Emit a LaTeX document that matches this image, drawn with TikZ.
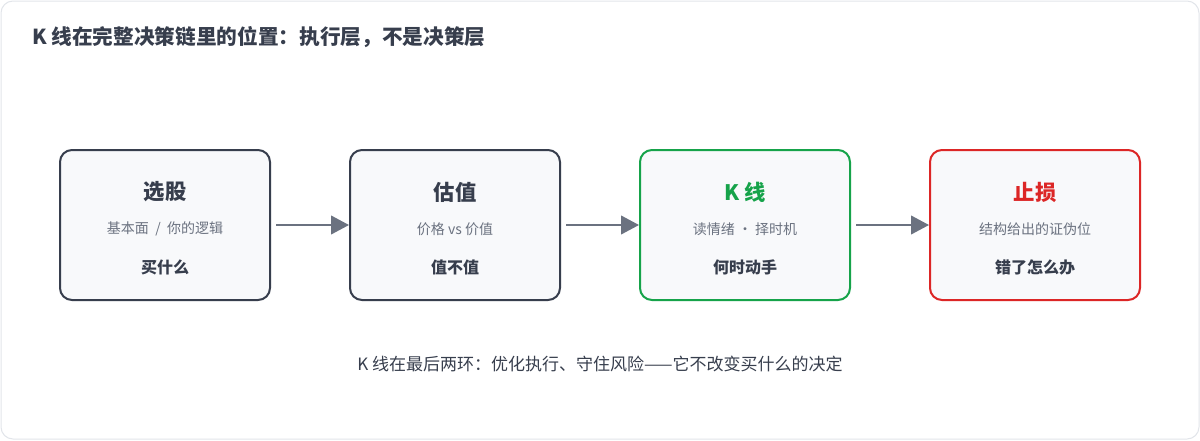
\documentclass[tikz,border=0pt]{standalone}
\usepackage{fontspec}
\setmainfont{Noto Sans CJK SC}
\usepackage{tikz}
\usetikzlibrary{positioning, arrows.meta, calc}
\usepackage{xcolor}
\definecolor{framegray}{RGB}{226, 229, 234}
\definecolor{boxfill}{RGB}{248, 249, 251}
\definecolor{inkdark}{RGB}{55, 62, 77}
\definecolor{inkgray}{RGB}{107, 114, 128}
\definecolor{arrowgray}{RGB}{107, 114, 128}
\definecolor{klinegreen}{RGB}{22, 163, 74}
\definecolor{stopred}{RGB}{220, 38, 38}

\tikzset{
    stagebox/.style={rectangle, rounded corners=9pt, draw=inkdark, line width=1.5pt,
        fill=boxfill, minimum width=157.5pt, minimum height=112.5pt, inner sep=0pt},
    stagetitle/.style={font=\fontsize{16}{19}\selectfont\bfseries, text=inkdark},
    stagesub/.style={font=\fontsize{10.5}{13}\selectfont, text=inkgray},
    stagekey/.style={font=\fontsize{12}{14}\selectfont\bfseries, text=inkdark},
    flowarrow/.style={-{Triangle[length=13.5pt, width=14pt]}, line width=1.5pt,
        draw=arrowgray, shorten <=3.75pt}
}

\begin{document}
\begin{tikzpicture}[x=0.75pt, y=-0.75pt]
    % Frame
    \useasboundingbox (0,0) rectangle (1200,440);
    \draw[framegray, line width=0.75pt, fill=white, rounded corners=9pt] (1,1) rectangle (1199,439);

    % Heading
    \node[anchor=west, inner sep=0pt, font=\fontsize{15.5}{18}\selectfont\bfseries, text=inkdark] (heading) at (32,37)
        {K 线在完整决策链里的位置：执行层，不是决策层};

    % Stages
    \node[stagebox] (pick) at (165,225) {};
    \node[stagebox] (value) at (455,225) {};
    \node[stagebox, draw=klinegreen] (kline) at (745,225) {};
    \node[stagebox, draw=stopred] (stop) at (1035,225) {};

    \foreach \stage/\title/\sub/\key/\col in {
        pick/选股/{基本面 \ / \ 你的逻辑}/买什么/inkdark,
        value/估值/价格 vs 价值/值不值/inkdark,
        kline/K 线/读情绪 · 择时机/何时动手/klinegreen,
        stop/止损/结构给出的证伪位/错了怎么办/stopred} {
        \node[stagetitle, text=\col] (\stage-title) at ($(\stage.center)+(0,-33)$) {\title};
        \node[stagesub] (\stage-sub) at ($(\stage.center)+(0,4)$) {\sub};
        \node[stagekey] (\stage-key) at ($(\stage.center)+(0,42)$) {\key};
    }

    % Arrows
    \draw[flowarrow] (pick) -- (value);
    \draw[flowarrow] (value) -- (kline);
    \draw[flowarrow] (kline) -- (stop);

    % Caption
    \node[font=\fontsize{12.75}{15}\selectfont, text=inkdark] (caption) at (600,364)
        {K 线在最后两环：优化执行、守住风险——它不改变买什么的决定};
\end{tikzpicture}
\end{document}
